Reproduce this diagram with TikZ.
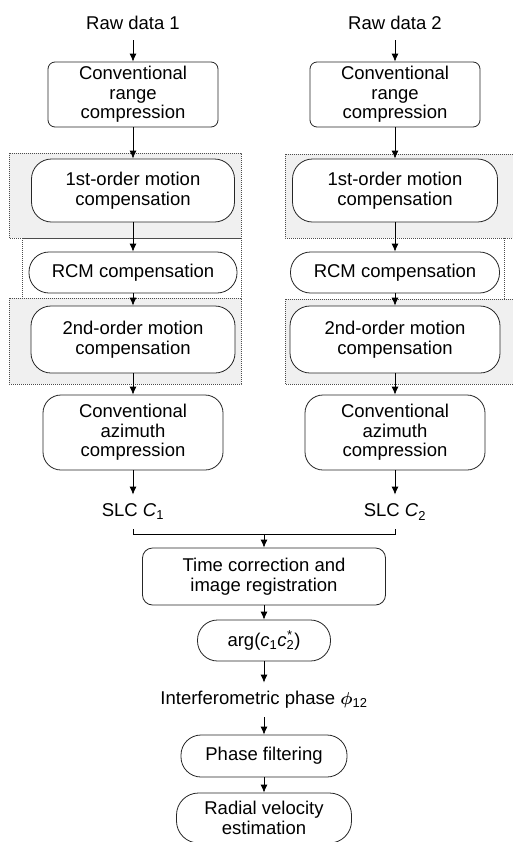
\documentclass[tikz,border=0pt]{standalone}
\usepackage{fontspec}
\setmainfont{Liberation Sans}
\usetikzlibrary{arrows.meta}
\begin{document}
\begin{tikzpicture}[x=1bp,y=-1bp,line width=0.8bp,
  font=\fontsize{18.5bp}{19.5bp}\selectfont,>={Latex[length=8bp,width=7bp]}]
%\draw[help lines] (0,0) grid (513,842);
\tikzstyle{region}=[draw=black!70,fill=black!6,line width=0.6bp,dash pattern=on 1bp off 1bp]
\tikzstyle{box}=[draw=black!85,fill=white,shape=rectangle,align=center,inner sep=0pt,rounded corners=20bp]
\tikzstyle{txt}=[inner sep=0pt,minimum height=34bp,align=center]
\tikzstyle{edge}=[draw,->]

\useasboundingbox[fill=white] (0,0) rectangle (513,842);

% shaded blocks
\draw[region] (9,153) rectangle (241,238);
\draw[region,fill=none] (22,238) rectangle (241,298);
\draw[region] (9,298) rectangle (241,384);
\draw[region] (285,154) rectangle (514,238);
\draw[region,fill=none] (504,238) -- (504,299);
\draw[region] (285,299) rectangle (514,384);

% channel 1
\draw (133,23) node[txt] (raw1) {Raw data 1};
\draw (133,94.5) node[box,rounded corners=7bp,minimum width=170bp,minimum height=65bp] (cr1) {Conventional\\range\\compression};
\draw (133,190.5) node[box,minimum width=203bp,minimum height=63bp] (mA1) {1st-order motion\\compensation};
\draw (133,272.5) node[box,minimum width=208bp,minimum height=41bp] (rcm1) {RCM compensation};
\draw (133,339.5) node[box,minimum width=204bp,minimum height=67bp] (mB1) {2nd-order motion\\compensation};
\draw (133,432.5) node[box,rounded corners=18bp,minimum width=180bp,minimum height=75bp] (az1) {Conventional\\azimuth\\compression};
\draw (133,512) node[txt] (slc1) {SLC \textit{C}\textsubscript{1}};

% channel 2
\draw (395,23) node[txt] (raw2) {Raw data 2};
\draw (395,94.5) node[box,rounded corners=7bp,minimum width=170bp,minimum height=65bp] (cr2) {Conventional\\range\\compression};
\draw (395,190.5) node[box,minimum width=205bp,minimum height=63bp] (mA2) {1st-order motion\\compensation};
\draw (395,272.5) node[box,minimum width=209bp,minimum height=41bp] (rcm2) {RCM compensation};
\draw (395,339.5) node[box,minimum width=210bp,minimum height=67bp] (mB2) {2nd-order motion\\compensation};
\draw (395,432.5) node[box,rounded corners=18bp,minimum width=180bp,minimum height=75bp] (az2) {Conventional\\azimuth\\compression};
\draw (395,512) node[txt] (slc2) {SLC \textit{C}\textsubscript{2}};

% interferometry
\coordinate (j) at (264,534);
\draw (264,576.5) node[box,rounded corners=10bp,minimum width=243bp,minimum height=57bp] (tc) {Time correction and\\image registration};
\draw (264,640.5) node[box,minimum width=133bp,minimum height=41bp] (arg) {arg(\textit{c}\textsubscript{1}\textit{c}\rlap{\textsuperscript{\textit{*}}}\textsubscript{2})};
\draw (264,700) node[txt] (ph) {Interferometric phase {\boldmath$\phi$}\textsubscript{12}};
\draw (264,756) node[box,minimum width=166bp,minimum height=42bp] (pf) {Phase filtering};
\draw (264,818) node[box,rounded corners=22bp,minimum width=175bp,minimum height=50bp] (rv) {Radial velocity\\estimation};

\draw[edge] (raw1) -- (cr1);
\draw[edge] (cr1) -- (mA1);
\draw[edge] (mA1) -- (rcm1);
\draw[edge] (rcm1) -- (mB1);
\draw[edge] (mB1) -- (az1);
\draw[edge] (az1) -- (slc1);
\draw[edge] (raw2) -- (cr2);
\draw[edge] (cr2) -- (mA2);
\draw[edge] (mA2) -- (rcm2);
\draw[edge] (rcm2) -- (mB2);
\draw[edge] (mB2) -- (az2);
\draw[edge] (az2) -- (slc2);
\draw (slc1) |- (j);
\draw (slc2) |- (j);
\draw[edge] (j) -- (tc);
\draw[edge] (tc) -- (arg);
\draw[edge] (arg) -- (ph);
\draw[edge] (ph) -- (pf);
\draw[edge] (pf) -- (rv);
\end{tikzpicture}
\end{document}
